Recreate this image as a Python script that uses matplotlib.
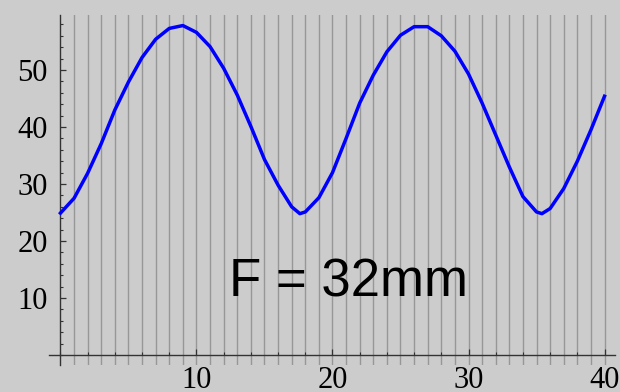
import matplotlib
matplotlib.use("Agg")
import matplotlib.pyplot as plt
from matplotlib.ticker import MultipleLocator, FixedLocator

# Data
x_vals = [0, 1, 2, 3, 4, 5, 6, 7, 8, 9, 10, 11, 12, 13, 14, 15, 16, 17, 17.6, 18,
          19, 20, 21, 22, 23, 24, 25, 26, 27, 28, 29, 30, 31, 32, 33, 34, 35, 35.4,
          36, 37, 38, 39, 40]
y_vals = [24.9, 27.5, 31.9, 37.1, 43.0, 47.9, 52.2, 55.4, 57.3, 57.8, 56.6, 54.1,
          50.3, 45.6, 40.1, 34.3, 29.8, 26.0, 24.8, 25.1, 27.6, 32.0, 38.0, 44.2,
          49.1, 53.2, 56.1, 57.6, 57.6, 56.0, 53.3, 49.3, 44.2, 38.6, 33.0, 27.8,
          25.1, 24.8, 25.7, 29.2, 34.0, 39.5, 45.4]
grid_x = list(range(1, 41))
x_major = [10, 20, 30, 40]
y_major = [10, 20, 30, 40, 50]
label_text = "F = 32mm"

bg = "#cccccc"
fig = plt.figure(figsize=(6.2, 3.92), dpi=100, facecolor=bg)
ax = fig.add_axes([49.3 / 620, 1 - 365 / 392, (615 - 49.3) / 620, (365 - 15) / 392])
ax.set_facecolor(bg)
ax.set_xlim(-0.82, 40.77)
ax.set_ylim(-1.75, 59.65)

for gx in grid_x:
    ax.axvline(gx, color="#979797", lw=1.0, zorder=1)

ax.plot(x_vals, y_vals, color="#0000ff", lw=2.5, zorder=3, solid_joinstyle="round")

for side in ["top", "right"]:
    ax.spines[side].set_visible(False)
ax.spines["left"].set_position(("data", 0))
ax.spines["bottom"].set_position(("data", 0))
for side in ["left", "bottom"]:
    ax.spines[side].set_color("#333333")
    ax.spines[side].set_linewidth(1.0)
    ax.spines[side].set_zorder(2)

ax.xaxis.set_major_locator(FixedLocator(x_major))
ax.xaxis.set_minor_locator(MultipleLocator(2))
ax.yaxis.set_major_locator(FixedLocator(y_major))
ax.yaxis.set_minor_locator(MultipleLocator(2))

ax.tick_params(axis="both", which="major", direction="in", length=4.5, width=0.9,
               color="#333333", labelsize=22, pad=6)
ax.tick_params(axis="both", which="minor", direction="in", length=2.3, width=0.8,
               color="#333333")
ax.tick_params(axis="x", which="major", pad=8)
ax.tick_params(axis="y", which="major", pad=9)
for lab in ax.get_xticklabels() + ax.get_yticklabels():
    lab.set_fontfamily("Liberation Serif")

ax.text(21.2, 10.2, label_text, ha="center", va="baseline",
        fontsize=38, family="Liberation Sans", color="black", zorder=4)

fig.savefig("out.png", dpi=100, facecolor=bg)
